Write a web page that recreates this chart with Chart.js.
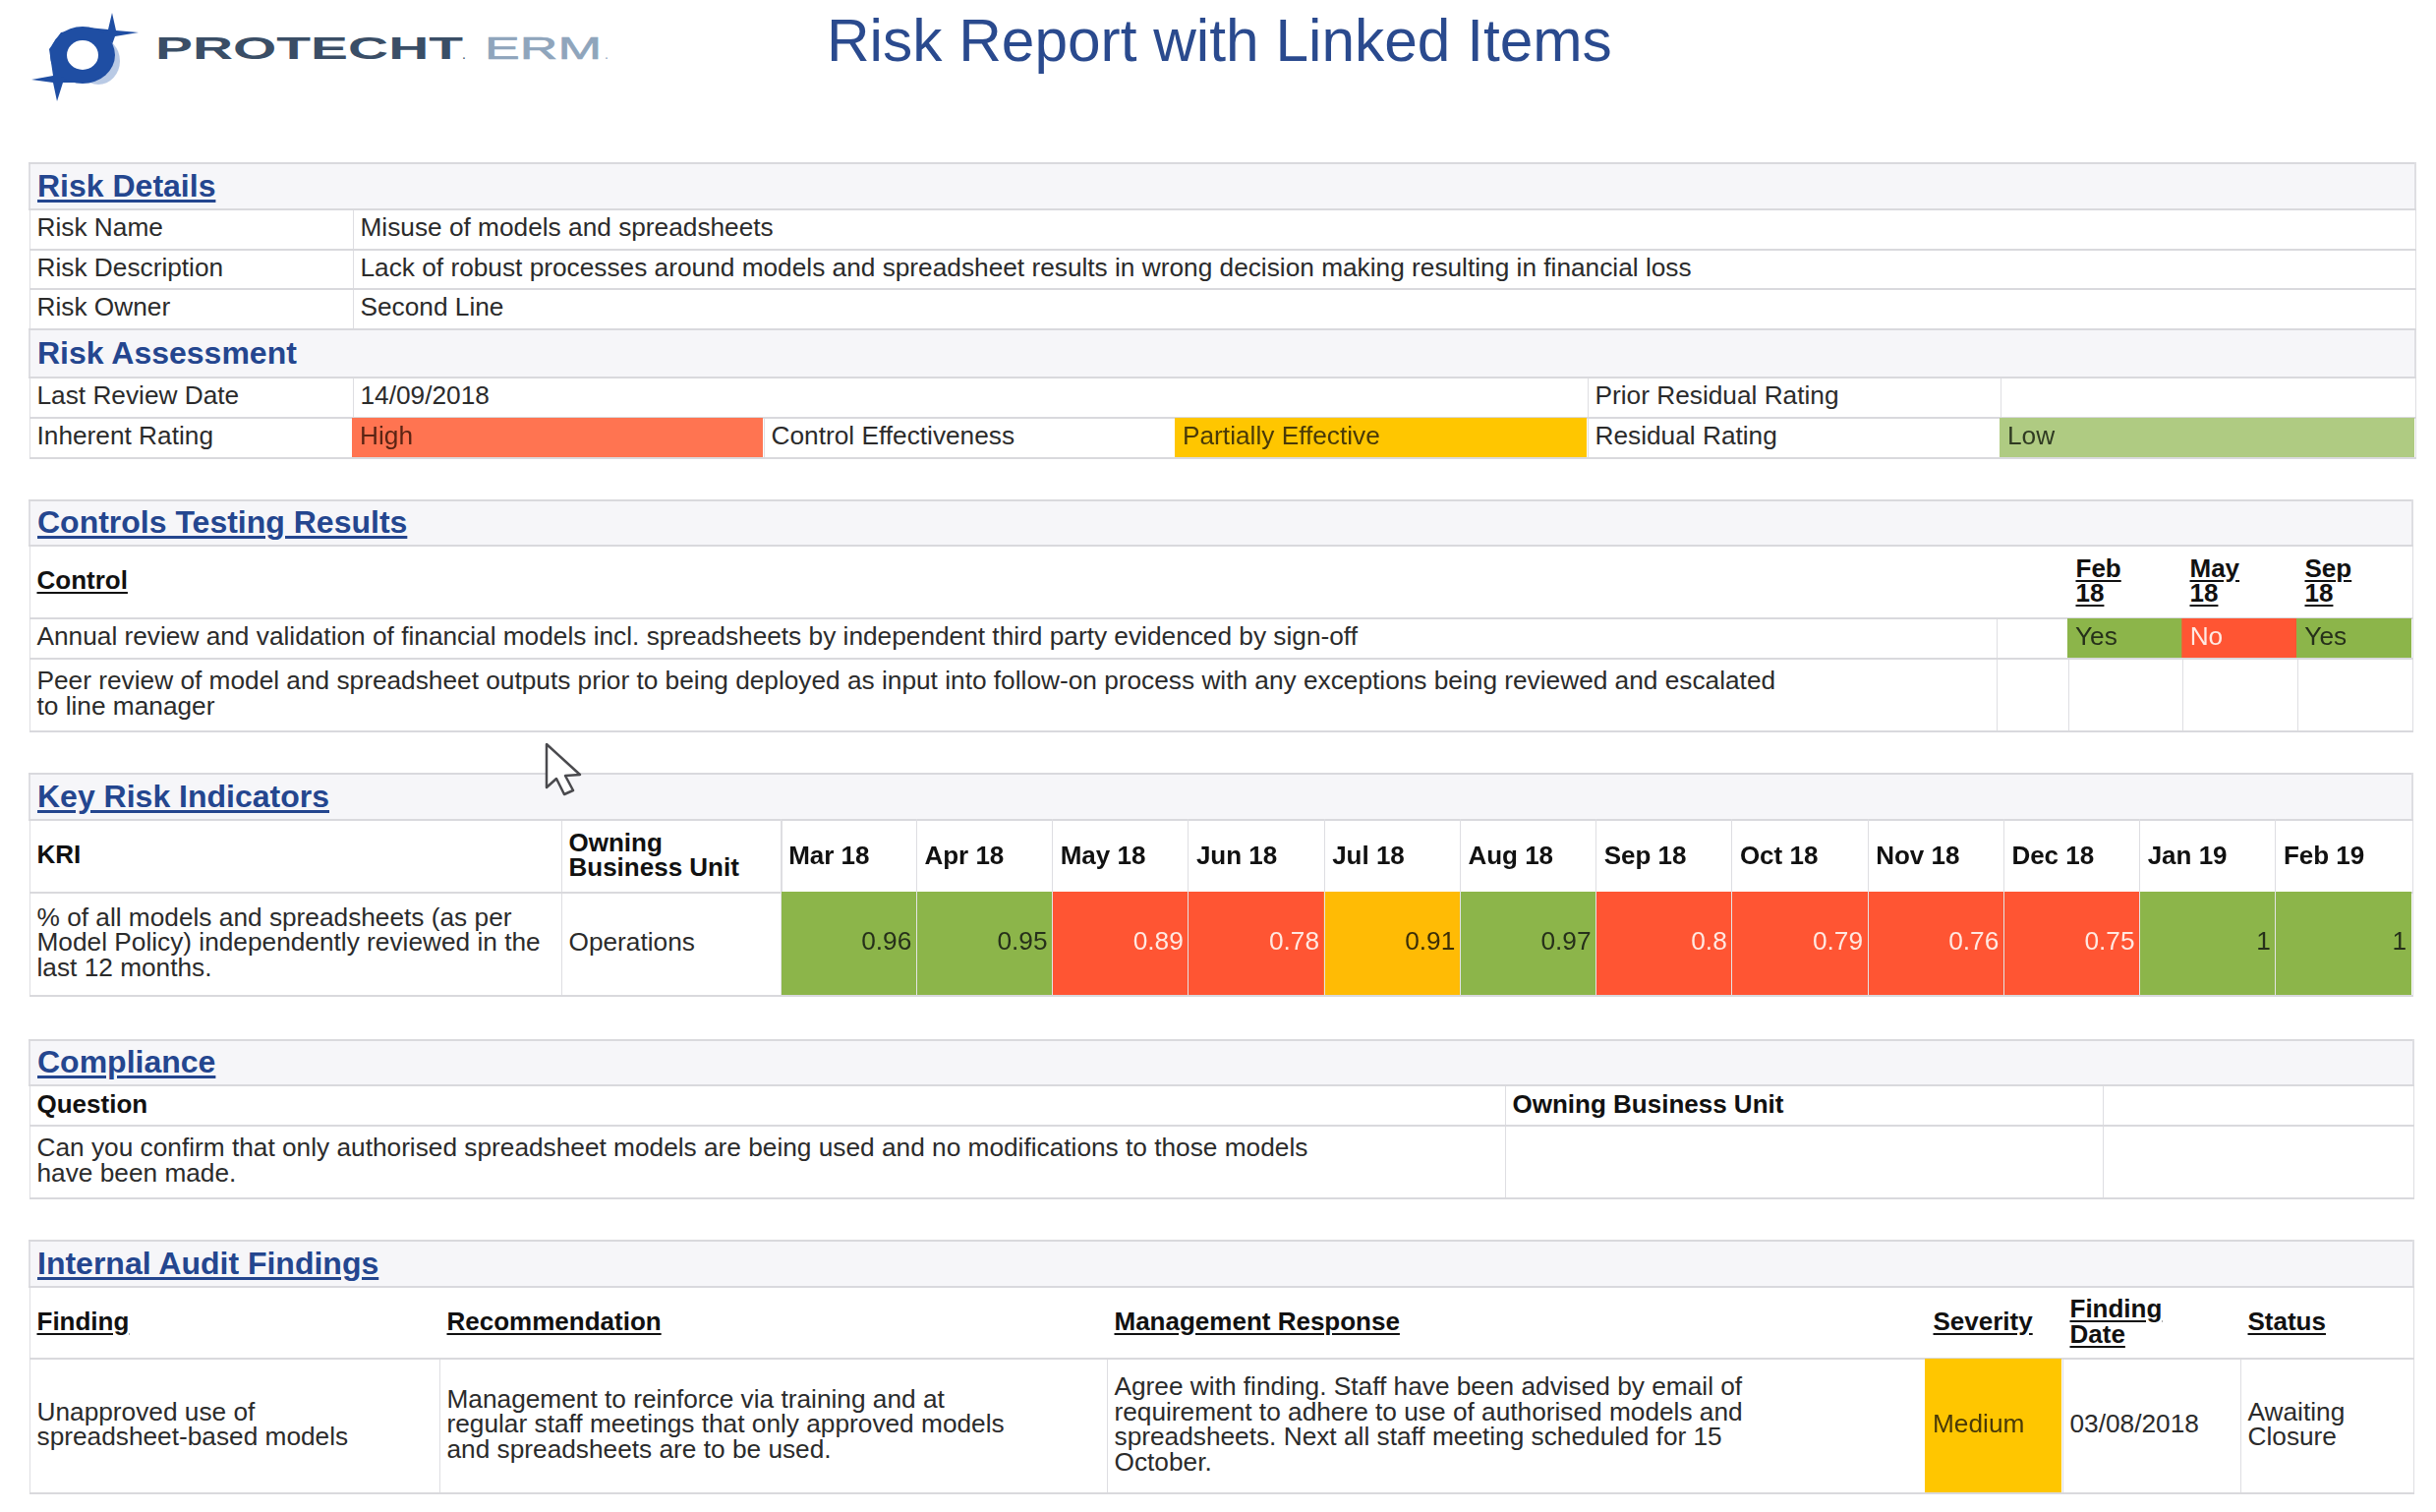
<!DOCTYPE html>
<html>
<head>
<meta charset="utf-8">
<title>Risk Report with Linked Items</title>
<script src="https://cdn.jsdelivr.net/npm/chart.js@4"></script>
<style>
  html, body { margin: 0; padding: 0; background: #fff; }
  body { position: relative; width: 2478px; height: 1538px; overflow: hidden;
         font: 26.25px/25.5px "Liberation Sans", Arial, sans-serif; color: #2b2b2b; }
  .abs { position: absolute; }
  h1 { position: absolute; left: 841px; top: 11px; margin: 0; font: 400 60.4px/60px "Liberation Sans", Arial, sans-serif;
       color: #2a4a8e; white-space: nowrap; }
  table { position: absolute; left: 29px; border-collapse: collapse; table-layout: fixed; }
  td { border: 1px solid #dedee2; border-top: 2px solid #d9d9dd; border-bottom: 2px solid #d9d9dd;
       padding: 0 0 3px 7px; vertical-align: middle; white-space: nowrap; overflow: hidden; }
  td.sec { background: #f6f6f9; font-weight: 700; font-size: 32px; color: #24468f; padding: 0 0 0 7px; border-left-width: 2px; border-right-width: 2px; }
  td.sec u { text-underline-offset: 3px; }
  td.h { font-weight: 700; font-size: 26px; color: #111; padding-bottom: 2px; }
  td.h u { text-underline-offset: 3px; }
  tr.nov td { border-left-color: transparent; border-right-color: transparent; }
  tr.nov td:first-child { border-left-color: #dedee2; }
  tr.nov td:last-child { border-right-color: #dedee2; }
  canvas { position: absolute; display: block; }
</style>
</head>
<body>

<svg class="abs" style="left:0;top:0" width="700" height="120">
  <path d="M114 13 L118 31 L141 33 L117 37 L108 62 L92 84 L64 84 L58 103 L54 84 L32 81 L54 77 L50 50 L62 33 L90 28 L110 30 Z" fill="#1f4ea3"/>
  <ellipse cx="100" cy="62" rx="22" ry="24" fill="#7f9fd0" opacity=".55"/>
  <ellipse cx="84" cy="56" rx="33" ry="29" fill="#1f4ea3"/>
  <ellipse cx="84" cy="56" rx="16" ry="15" fill="#fff"/>
  <text x="158" y="60" font-family="Liberation Sans" font-weight="700" font-size="32" fill="#3a4e66" textLength="313" lengthAdjust="spacingAndGlyphs">PROTECHT</text>
  <text x="470" y="60" font-family="Liberation Sans" font-size="14" fill="#3a4e66">.</text>
  <text x="493" y="60" font-family="Liberation Sans" font-size="32" fill="#8fa5bc" stroke="#8fa5bc" stroke-width=".6" textLength="119" lengthAdjust="spacingAndGlyphs">ERM</text>
  <text x="615" y="60" font-family="Liberation Sans" font-size="14" fill="#8fa5bc">.</text>
</svg>

<h1>Risk Report with Linked Items</h1>

<table style="top:165px;width:2427px">
  <colgroup><col style="width:329px"><col style="width:418px"><col style="width:419px"><col style="width:419px"><col style="width:420px"><col style="width:422px"></colgroup>
  <tr style="height:47px"><td class="sec" colspan="6"><u>Risk Details</u></td></tr>
  <tr style="height:41px"><td>Risk Name</td><td colspan="5">Misuse of models and spreadsheets</td></tr>
  <tr style="height:40px"><td>Risk Description</td><td colspan="5">Lack of robust processes around models and spreadsheet results in wrong decision making resulting in financial loss</td></tr>
  <tr style="height:41px"><td>Risk Owner</td><td colspan="5">Second Line</td></tr>
  <tr style="height:49px"><td class="sec" colspan="6">Risk Assessment</td></tr>
  <tr style="height:41px"><td>Last Review Date</td><td colspan="3">14/09/2018</td><td>Prior Residual Rating</td><td></td></tr>
  <tr style="height:41px"><td>Inherent Rating</td><td></td><td>Control Effectiveness</td><td></td><td>Residual Rating</td><td></td></tr>
</table>
<canvas id="ratingHigh" width="418" height="40" style="left:358px;top:425px"></canvas>
<canvas id="ratingPartial" width="419" height="40" style="left:1195px;top:425px"></canvas>
<canvas id="ratingLow" width="422" height="40" style="left:2034px;top:425px"></canvas>

<table style="top:508px;width:2424px">
  <colgroup><col style="width:2001px"><col style="width:73px"><col style="width:116px"><col style="width:117px"><col style="width:117px"></colgroup>
  <tr style="height:46px"><td class="sec" colspan="5"><u>Controls Testing Results</u></td></tr>
  <tr class="nov" style="height:74px"><td class="h"><u>Control</u></td><td></td><td class="h"><u>Feb<br>18</u></td><td class="h"><u>May<br>18</u></td><td class="h"><u>Sep<br>18</u></td></tr>
  <tr style="height:41px"><td>Annual review and validation of financial models incl. spreadsheets by independent third party evidenced by sign-off</td><td></td><td></td><td></td><td></td></tr>
  <tr style="height:74px"><td>Peer review of model and spreadsheet outputs prior to being deployed as input into follow-on process with any exceptions being reviewed and escalated<br>to line manager</td><td></td><td></td><td></td><td></td></tr>
</table>
<canvas id="controlCells" width="350" height="40" style="left:2103px;top:629px"></canvas>

<table style="top:786px;width:2424px">
  <colgroup><col style="width:541px"><col style="width:224px"><col style="width:1659px"></colgroup>
  <tr style="height:47px"><td class="sec" colspan="3"><u>Key Risk Indicators</u></td></tr>
  <tr style="height:74px"><td class="h">KRI</td><td class="h">Owning<br>Business Unit</td><td></td></tr>
  <tr style="height:105px"><td>% of all models and spreadsheets (as per<br>Model Policy) independently reviewed in the<br>last 12 months.</td><td>Operations</td><td></td></tr>
</table>
<canvas id="kriChart" width="1659" height="179" style="left:794px;top:833px"></canvas>

<table style="top:1057px;width:2425px">
  <colgroup><col style="width:1501px"><col style="width:608px"><col style="width:316px"></colgroup>
  <tr style="height:46px"><td class="sec" colspan="3"><u>Compliance</u></td></tr>
  <tr style="height:41px"><td class="h">Question</td><td class="h">Owning Business Unit</td><td></td></tr>
  <tr style="height:74px"><td>Can you confirm that only authorised spreadsheet models are being used and no modifications to those models<br>have been made.</td><td></td><td></td></tr>
</table>

<table style="top:1261px;width:2425px">
  <colgroup><col style="width:417px"><col style="width:679px"><col style="width:833px"><col style="width:139px"><col style="width:181px"><col style="width:176px"></colgroup>
  <tr style="height:47px"><td class="sec" colspan="6"><u>Internal Audit Findings</u></td></tr>
  <tr class="nov" style="height:73px"><td class="h"><u>Finding</u></td><td class="h"><u>Recommendation</u></td><td class="h"><u>Management Response</u></td><td class="h"><u>Severity</u></td><td class="h"><u>Finding<br>Date</u></td><td class="h"><u>Status</u></td></tr>
  <tr style="height:137px"><td>Unapproved use of<br>spreadsheet-based models</td><td>Management to reinforce via training and at<br>regular staff meetings that only approved models<br>and spreadsheets are to be used.</td><td>Agree with finding. Staff have been advised by email of<br>requirement to adhere to use of authorised models and<br>spreadsheets. Next all staff meeting scheduled for 15<br>October.</td><td></td><td>03/08/2018</td><td>Awaiting<br>Closure</td></tr>
</table>
<canvas id="severityCell" width="139" height="136" style="left:1958px;top:1382px"></canvas>

<svg class="abs" style="left:550px;top:752px" width="50" height="62">
  <path d="M6 5 L6 49 L16 40 L24 56 L33 52 L25 37 L40 36 Z" fill="#fff" stroke="#4a4a4e" stroke-width="2.5" stroke-linejoin="round"/>
</svg>

<script>
const kriMonths = ['Mar 18', 'Apr 18', 'May 18', 'Jun 18', 'Jul 18', 'Aug 18', 'Sep 18', 'Oct 18', 'Nov 18', 'Dec 18', 'Jan 19', 'Feb 19'];
const kriValues = [0.96, 0.95, 0.89, 0.78, 0.91, 0.97, 0.8, 0.79, 0.76, 0.75, 1, 1];
const kriBands = ['green', 'green', 'red', 'red', 'amber', 'green', 'red', 'red', 'red', 'red', 'green', 'green'];

const controlMonths = ['Feb 18', 'May 18', 'Sep 18'];
const controlResults = ['Yes', 'No', 'Yes'];
const controlBands = ['green', 'red', 'green'];

const ratingNames = ['Inherent Rating', 'Control Effectiveness', 'Residual Rating'];
const ratingResults = ['High', 'Partially Effective', 'Low'];
const ratingBands = ['high', 'partial', 'low'];

const severityNames = ['Severity'];
const severityResults = ['Medium'];
const severityBands = ['partial'];

const bandFill = { green: '#8cb54a', red: '#ff5533', amber: '#ffbb05', high: '#ff7451', partial: '#ffc600', low: '#afcb82' };
const bandInk = { green: '#26301a', red: '#ffe9e2', amber: '#3c2e08', high: '#5a2414', partial: '#4a3a08', low: '#2f3a22' };

const cellFont = '26.25px "Liberation Sans", Arial, sans-serif';

// writes each cell's text inside its bar, left or right like the report does
const cellText = {
    id: 'cellText',
    afterDatasetsDraw(chart, args, opts) {
        const ctx = chart.ctx;
        ctx.save();
        ctx.font = cellFont;
        ctx.textBaseline = 'middle';
        ctx.textAlign = opts.align;
        chart.getDatasetMeta(0).data.forEach((bar, i) => {
            const half = bar.width / 2;
            const x = opts.align === 'right' ? bar.x + half - 5 : bar.x - half + 8;
            ctx.fillStyle = bandInk[opts.bands[i]];
            ctx.fillText(opts.texts[i], x, (bar.y + bar.base) / 2 - 0.5);
        });
        ctx.restore();
    }
};

// one row of coloured cells: every bar runs the full height of the row
function cellRow(id, labels, texts, bands, align, xScale) {
    return new Chart(document.getElementById(id), {
        type: 'bar',
        plugins: [cellText],
        data: {
            labels: labels,
            datasets: [{
                data: labels.map(() => [0, 1]),
                backgroundColor: bands.map(b => bandFill[b]),
                barPercentage: 1,
                categoryPercentage: 1,
                borderWidth: 0
            }]
        },
        options: {
            responsive: false,
            animation: false,
            layout: { padding: 0 },
            scales: {
                x: xScale || { display: false },
                y: { display: false, min: 0, max: 1 }
            },
            plugins: {
                legend: { display: false },
                tooltip: { enabled: false },
                cellText: { texts: texts, bands: bands, align: align }
            }
        }
    });
}

cellRow('kriChart', kriMonths, kriValues.map(String), kriBands, 'right', {
    position: 'top',
    border: { display: false },
    afterFit: s => { s.height = 74; },
    grid: { color: '#e4e4e4', tickColor: '#dedee2', tickLength: 74, z: 1 },
    ticks: {
        color: '#111',
        font: { family: '"Liberation Sans", Arial, sans-serif', size: 26, weight: 700 },
        align: 'start',
        labelOffset: -61,
        padding: -54,
        autoSkip: false,
        maxRotation: 0
    }
});
cellRow('controlCells', controlMonths, controlResults, controlBands, 'left');
cellRow('ratingHigh', [ratingNames[0]], [ratingResults[0]], [ratingBands[0]], 'left');
cellRow('ratingPartial', [ratingNames[1]], [ratingResults[1]], [ratingBands[1]], 'left');
cellRow('ratingLow', [ratingNames[2]], [ratingResults[2]], [ratingBands[2]], 'left');
cellRow('severityCell', severityNames, severityResults, severityBands, 'left');
</script>
</body>
</html>
